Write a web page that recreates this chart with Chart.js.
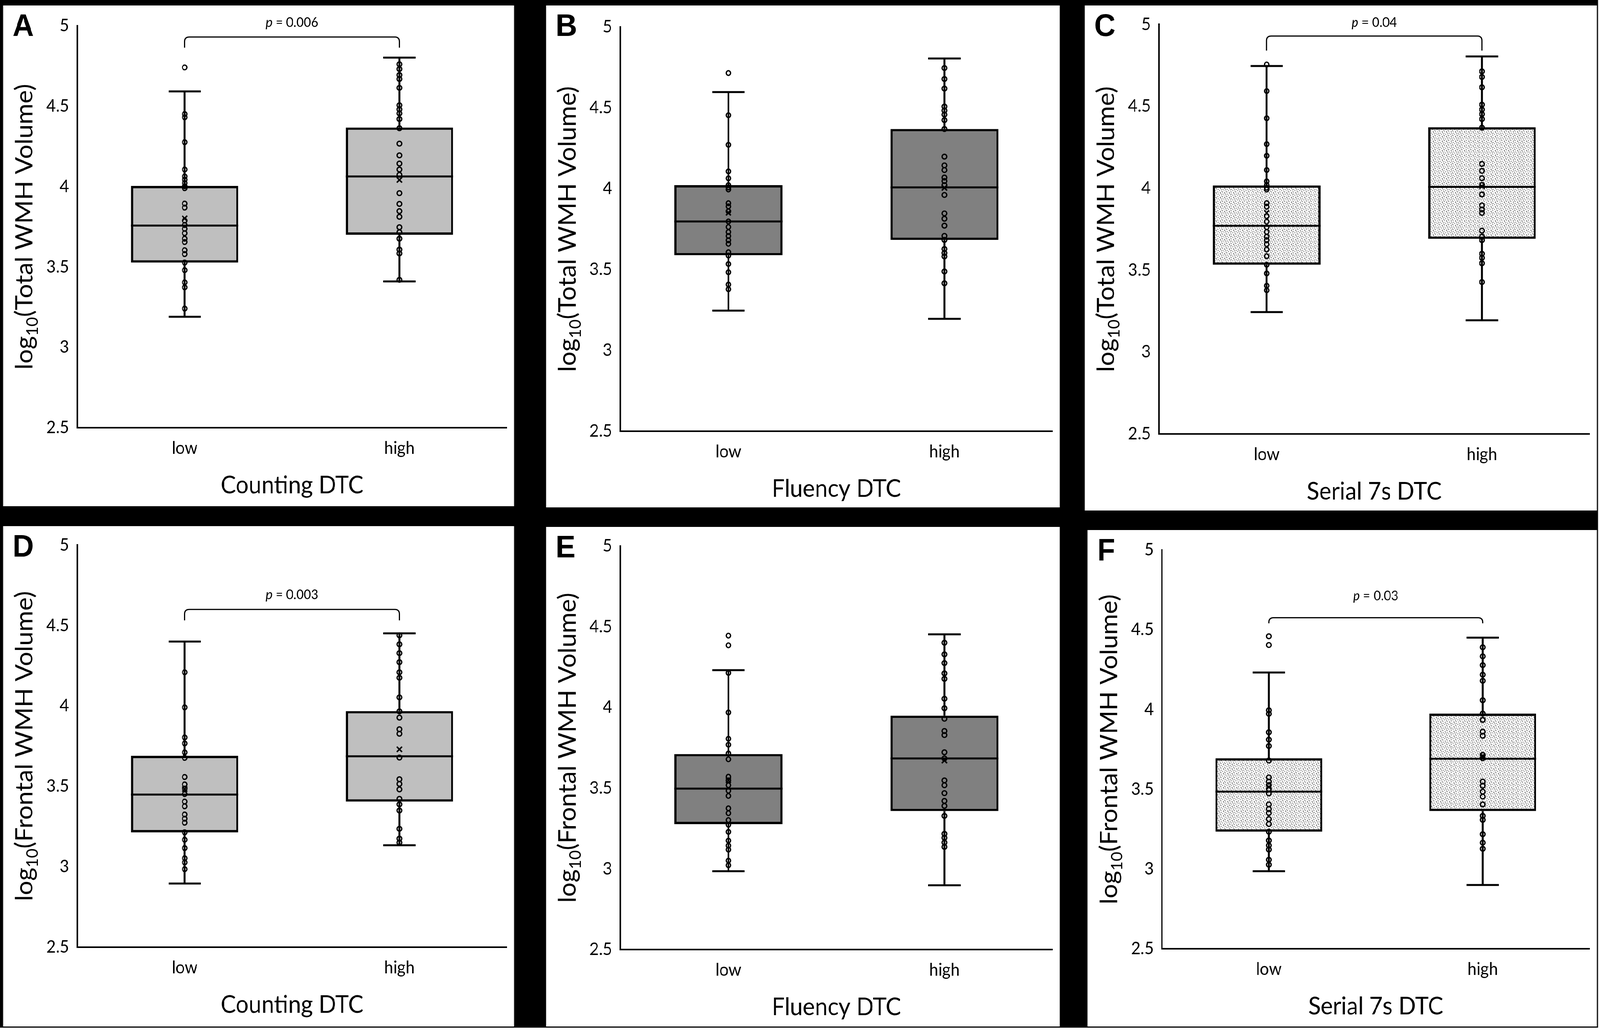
<!DOCTYPE html>
<html>
<head>
<meta charset="utf-8">
<script src="https://cdn.jsdelivr.net/npm/chart.js@4.4.0/dist/chart.umd.min.js"></script>
<style>
html,body{margin:0;padding:0;background:#000;overflow:hidden;}
#stage{position:absolute;left:0;top:0;width:4328px;height:2637px;background:#000;transform-origin:0 0;}
.panel{position:absolute;background:#fff;}
.panel canvas{position:absolute;left:0;top:0;}
.edgeR{position:absolute;left:4323px;top:0;width:5px;height:2637px;background:#fff;}
.edgeB{position:absolute;left:0;top:2631px;width:4328px;height:6px;background:#fff;}
</style>
</head>
<body>
<div id="stage"></div>
<script>
// ---------------- DATA ----------------
const categories = ['low', 'high'];
const panelLetters = ['A', 'B', 'C', 'D', 'E', 'F'];
const xAxisTitles = ['Counting DTC', 'Fluency DTC', 'Serial 7s DTC', 'Counting DTC', 'Fluency DTC', 'Serial 7s DTC'];
const yAxisTitles = ['(Total WMH Volume)', '(Total WMH Volume)', '(Total WMH Volume)',
                     '(Frontal WMH Volume)', '(Frontal WMH Volume)', '(Frontal WMH Volume)'];
const yTickValues = [2.5, 3, 3.5, 4, 4.5, 5];
const yTickLabels = ['2.5', '3', '3.5', '4', '4.5', '5'];

// box statistics per panel: [low, high]
const q1Values     = [[3.527, 3.700], [3.588, 3.683], [3.533, 3.691], [3.214, 3.405], [3.277, 3.358], [3.234, 3.363]];
const medianValues = [[3.757, 4.063], [3.797, 4.008], [3.771, 4.008], [3.449, 3.687], [3.497, 3.684], [3.485, 3.691]];
const q3Values     = [[4.004, 4.367], [4.022, 4.369], [4.017, 4.372], [3.690, 3.968], [3.711, 3.949], [3.694, 3.974]];
const whiskerLow   = [[3.190, 3.410], [3.246, 3.195], [3.244, 3.194], [2.896, 3.134], [2.985, 2.898], [2.986, 2.900]];
const whiskerHigh  = [[4.592, 4.802], [4.597, 4.805], [4.746, 4.804], [4.400, 4.451], [4.231, 4.453], [4.232, 4.450]];
const meanValues   = [[3.802, 4.041], [3.851, 4.005], [3.849, 4.012], [3.483, 3.730], [3.548, 3.671], [3.514, 3.708]];

// individual observations
const lowPointsA  = [4.741, 4.451, 4.431, 4.276, 4.106, 4.063, 4.043, 4.022, 4.002, 3.990, 3.894, 3.869, 3.788, 3.761, 3.737, 3.710, 3.676, 3.655, 3.604, 3.580, 3.527, 3.480, 3.404, 3.373, 3.241];
const highPointsA = [4.761, 4.731, 4.694, 4.669, 4.614, 4.506, 4.480, 4.455, 4.420, 4.363, 4.267, 4.194, 4.143, 4.106, 4.073, 3.959, 3.892, 3.847, 3.812, 3.747, 3.716, 3.676, 3.608, 3.584, 3.420];
const lowPointsB  = [4.715, 4.454, 4.271, 4.107, 4.064, 4.022, 4.008, 3.995, 3.910, 3.890, 3.860, 3.797, 3.763, 3.732, 3.707, 3.681, 3.659, 3.607, 3.586, 3.534, 3.483, 3.407, 3.378];
const highPointsB = [4.746, 4.678, 4.619, 4.508, 4.483, 4.458, 4.424, 4.369, 4.198, 4.144, 4.115, 4.069, 4.047, 4.022, 3.961, 3.847, 3.814, 3.771, 3.708, 3.683, 3.627, 3.602, 3.581, 3.488, 3.415];
const lowPointsC  = [4.755, 4.593, 4.427, 4.269, 4.198, 4.111, 4.042, 4.020, 4.003, 3.992, 3.909, 3.887, 3.829, 3.796, 3.762, 3.733, 3.704, 3.683, 3.658, 3.626, 3.585, 3.533, 3.480, 3.405, 3.377];
const highPointsC = [4.713, 4.679, 4.616, 4.510, 4.480, 4.452, 4.422, 4.369, 4.148, 4.106, 4.061, 4.020, 3.962, 3.895, 3.870, 3.849, 3.741, 3.704, 3.683, 3.600, 3.575, 3.542, 3.427];
const lowPointsD  = [4.209, 3.991, 3.804, 3.767, 3.711, 3.677, 3.558, 3.512, 3.486, 3.452, 3.405, 3.376, 3.325, 3.299, 3.274, 3.214, 3.168, 3.116, 3.053, 3.027, 2.985];
const highPointsD = [4.439, 4.383, 4.328, 4.272, 4.209, 4.175, 4.053, 3.966, 3.927, 3.855, 3.827, 3.679, 3.544, 3.515, 3.481, 3.422, 3.388, 3.350, 3.236, 3.175, 3.150];
const lowPointsE  = [4.445, 4.385, 4.214, 3.969, 3.806, 3.769, 3.715, 3.679, 3.571, 3.548, 3.518, 3.484, 3.452, 3.375, 3.345, 3.302, 3.273, 3.229, 3.175, 3.144, 3.119, 3.051, 3.022];
const highPointsE = [4.401, 4.329, 4.275, 4.211, 4.177, 4.054, 3.995, 3.930, 3.854, 3.829, 3.722, 3.684, 3.548, 3.518, 3.469, 3.421, 3.390, 3.328, 3.217, 3.192, 3.163, 3.136];
const lowPointsF  = [4.459, 4.404, 3.995, 3.973, 3.857, 3.811, 3.771, 3.680, 3.574, 3.548, 3.526, 3.502, 3.474, 3.405, 3.376, 3.351, 3.313, 3.282, 3.234, 3.179, 3.148, 3.122, 3.058, 3.027];
const highPointsF = [4.390, 4.333, 4.278, 4.218, 4.180, 4.058, 3.974, 3.935, 3.861, 3.835, 3.715, 3.694, 3.548, 3.522, 3.485, 3.454, 3.405, 3.333, 3.308, 3.218, 3.165, 3.127];
const lowPoints  = [lowPointsA, lowPointsB, lowPointsC, lowPointsD, lowPointsE, lowPointsF];
const highPoints = [highPointsA, highPointsB, highPointsC, highPointsD, highPointsE, highPointsF];

// significance brackets
const pValueTexts  = ['0.006', null, '0.04', '0.003', null, '0.03'];
const bracketLineY = [4.930, null, 4.929, 4.600, null, 4.575];
const bracketLegY  = [4.864, null, 4.840, 4.532, null, 4.540];
const pTextY       = [5.020, null, 5.010, 4.690, null, 4.710];

// ---------------- STYLE / LAYOUT ----------------
const panelRects = [[8, 14, 1383, 1282], [1477, 14, 1390, 1285], [2934, 14, 1386, 1293],
                    [8, 1347, 1383, 1281], [1477, 1349, 1390, 1279], [2942, 1357, 1378, 1271]];
const plotTops = [52, 55, 41, 47, 49, 51];
const plotHeights = [1029, 1035, 1056, 1031, 1033, 1021];
const fillKinds = ['light', 'dark', 'dots', 'light', 'dark', 'dots'];
const FONT = 'Lato';

const stage = document.getElementById('stage');
const sx = Math.min(1, window.innerWidth / 4328), sy = Math.min(1, window.innerHeight / 2637);
stage.style.transform = 'scale(' + sx + ',' + sy + ')';

function makeDotPattern() {
  const t = document.createElement('canvas');
  t.width = 12; t.height = 12;
  const c = t.getContext('2d');
  c.fillStyle = '#ffffff'; c.fillRect(0, 0, 12, 12);
  c.fillStyle = '#2a2a2a';
  [[1, 2], [7, 0], [4, 5], [10, 7], [0, 9], [6, 10], [9, 3]].forEach(([x, y]) => c.fillRect(x, y, 1.7, 1.7));
  return c.createPattern(t, 'repeat');
}
const dotPattern = makeDotPattern();
function fillFor(kind) {
  if (kind === 'light') return '#bfbfbf';
  if (kind === 'dark') return '#808080';
  return dotPattern;
}

const boxPlugin = {
  id: 'boxExtras',
  afterDatasetDraw(chart, args) {
    if (args.index !== 0) return;
    const i = chart.options.plugins.boxExtras.panel;
    const ctx = chart.ctx, y = chart.scales.y;
    const meta = chart.getDatasetMeta(0);
    ctx.save();
    ctx.strokeStyle = '#000';
    ctx.lineCap = 'butt';
    meta.data.forEach((bar, k) => {
      const cx = bar.x, half = bar.width / 2;
      const capHalf = bar.width * 0.15;
      ctx.lineWidth = 5;
      ctx.beginPath();
      ctx.moveTo(cx - half, y.getPixelForValue(medianValues[i][k]));
      ctx.lineTo(cx + half, y.getPixelForValue(medianValues[i][k]));
      ctx.stroke();
      ctx.beginPath();
      ctx.moveTo(cx, y.getPixelForValue(q3Values[i][k]));
      ctx.lineTo(cx, y.getPixelForValue(whiskerHigh[i][k]));
      ctx.moveTo(cx, y.getPixelForValue(q1Values[i][k]));
      ctx.lineTo(cx, y.getPixelForValue(whiskerLow[i][k]));
      ctx.stroke();
      ctx.beginPath();
      ctx.moveTo(cx - capHalf, y.getPixelForValue(whiskerHigh[i][k]));
      ctx.lineTo(cx + capHalf, y.getPixelForValue(whiskerHigh[i][k]));
      ctx.moveTo(cx - capHalf, y.getPixelForValue(whiskerLow[i][k]));
      ctx.lineTo(cx + capHalf, y.getPixelForValue(whiskerLow[i][k]));
      ctx.stroke();
    });
    ctx.restore();
  },
  afterDraw(chart) {
    const i = chart.options.plugins.boxExtras.panel;
    const ctx = chart.ctx, x = chart.scales.x, y = chart.scales.y;
    const area = chart.chartArea;
    ctx.save();
    ctx.fillStyle = '#000';
    ctx.strokeStyle = '#000';
    ctx.font = 'bold 80px "Liberation Sans"';
    ctx.textAlign = 'left'; ctx.textBaseline = 'alphabetic';
    ctx.fillText(panelLetters[i], 26, 78);
    ctx.font = '62px ' + FONT;
    ctx.textAlign = 'center'; ctx.textBaseline = 'middle';
    ctx.fillText(xAxisTitles[i], (area.left + area.right) / 2, area.bottom + 148);
    const mainF = '65px ' + FONT, subF = '42px ' + FONT;
    ctx.font = mainF; const w1 = ctx.measureText('log').width; const w3 = ctx.measureText(yAxisTitles[i]).width;
    ctx.font = subF; const w2 = ctx.measureText('10').width;
    const total = w1 + w2 + w3;
    ctx.translate(80, (area.top + area.bottom) / 2);
    ctx.rotate(-Math.PI / 2);
    ctx.textAlign = 'left'; ctx.textBaseline = 'alphabetic';
    let tx0 = -total / 2;
    ctx.font = mainF; ctx.fillText('log', tx0, 0); tx0 += w1;
    ctx.font = subF; ctx.fillText('10', tx0, 14); tx0 += w2;
    ctx.font = mainF; ctx.fillText(yAxisTitles[i], tx0, 0);
    ctx.setTransform(1, 0, 0, 1, 0, 0);
    if (pValueTexts[i]) {
      const xl = x.getPixelForValue(0), xr = x.getPixelForValue(1);
      const yl = y.getPixelForValue(bracketLineY[i]);
      const yg = y.getPixelForValue(bracketLegY[i]);
      const r = Math.min(12, yg - yl);
      ctx.lineWidth = 3;
      ctx.beginPath();
      ctx.moveTo(xl, yg); ctx.lineTo(xl, yl + r);
      ctx.quadraticCurveTo(xl, yl, xl + r, yl);
      ctx.lineTo(xr - r, yl);
      ctx.quadraticCurveTo(xr, yl, xr, yl + r);
      ctx.lineTo(xr, yg);
      ctx.stroke();
      const pf = 'italic 34px ' + FONT, nf = '34px ' + FONT;
      const rest = ' = ' + pValueTexts[i];
      ctx.font = pf; const pw = ctx.measureText('p').width;
      ctx.font = nf; const rw = ctx.measureText(rest).width;
      const ty = y.getPixelForValue(pTextY[i]);
      const tx = (xl + xr) / 2 - (pw + rw) / 2;
      ctx.textAlign = 'left'; ctx.textBaseline = 'middle';
      ctx.font = pf; ctx.fillText('p', tx, ty);
      ctx.font = nf; ctx.fillText(rest, tx + pw, ty);
    }
    ctx.restore();
  }
};

function buildPanel(i) {
  const [L, T, W, H] = panelRects[i];
  const div = document.createElement('div');
  div.className = 'panel';
  div.style.left = L + 'px'; div.style.top = T + 'px';
  div.style.width = W + 'px'; div.style.height = H + 'px';
  const cv = document.createElement('canvas');
  cv.width = W; cv.height = H;
  cv.style.width = W + 'px'; cv.style.height = H + 'px';
  div.appendChild(cv);
  stage.appendChild(div);

  const pts = lowPoints[i].map(v => ({ x: categories[0], y: v }))
    .concat(highPoints[i].map(v => ({ x: categories[1], y: v })));
  const means = meanValues[i].map((v, k) => ({ x: categories[k], y: v }));

  new Chart(cv.getContext('2d'), {
    data: {
      labels: categories,
      datasets: [
        {
          type: 'bar',
          data: q1Values[i].map((q, k) => [q, q3Values[i][k]]),
          backgroundColor: fillFor(fillKinds[i]),
          borderColor: '#000', borderWidth: 6, borderSkipped: false,
          barPercentage: 0.5, categoryPercentage: 1, order: 2
        },
        {
          type: 'line', data: pts, showLine: false,
          pointRadius: 6, pointBorderWidth: 3.4, pointBorderColor: '#000',
          pointBackgroundColor: 'rgba(0,0,0,0)', order: 1
        },
        {
          type: 'line', data: means, showLine: false,
          pointStyle: 'crossRot', pointRadius: 9.5, pointBorderWidth: 3.8,
          pointBorderColor: '#000', order: 0
        }
      ]
    },
    options: {
      responsive: false, devicePixelRatio: 1, animation: false, events: [],
      layout: { padding: { top: plotTops[i], right: 20, left: 0, bottom: 0 } },
      plugins: { legend: { display: false }, tooltip: { enabled: false }, boxExtras: { panel: i } },
      scales: {
        x: {
          type: 'category', offset: true,
          grid: { display: false, drawTicks: false },
          border: { display: true, color: '#000', width: 4 },
          ticks: { color: '#000', font: { family: FONT, size: 44 }, padding: 26 },
          afterFit: s => { s.height = H - plotTops[i] - plotHeights[i]; }
        },
        y: {
          type: 'linear', min: yTickValues[0], max: yTickValues[yTickValues.length - 1],
          grid: { display: false, drawTicks: false },
          border: { display: true, color: '#000', width: 4 },
          afterBuildTicks: s => { s.ticks = yTickValues.map(v => ({ value: v })); },
          ticks: {
            color: '#000', font: { family: FONT, size: 44 }, padding: 22,
            callback: v => yTickLabels[yTickValues.indexOf(v)]
          },
          afterFit: s => { s.width = 201; }
        }
      }
    },
    plugins: [boxPlugin]
  });
}

for (let i = 0; i < 6; i++) buildPanel(i);
const er = document.createElement('div'); er.className = 'edgeR'; stage.appendChild(er);
const eb = document.createElement('div'); eb.className = 'edgeB'; stage.appendChild(eb);
</script>
</body>
</html>
